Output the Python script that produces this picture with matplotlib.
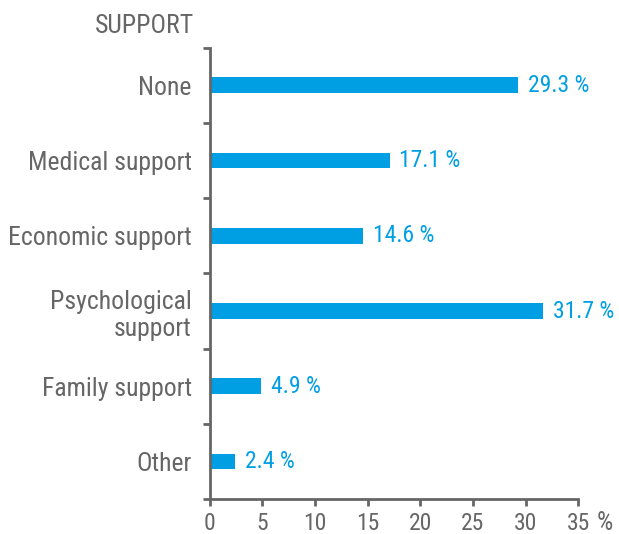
import matplotlib
matplotlib.use("Agg")
import matplotlib.pyplot as plt
from matplotlib.ticker import FixedLocator

# Support categories and share of respondents (%)
categories = ["None", "Medical support", "Economic support",
              "Psychological\nsupport", "Family support", "Other"]
values = [29.3, 17.1, 14.6, 31.7, 4.9, 2.4]
xticks = [0, 5, 10, 15, 20, 25, 30, 35]

plt.rcParams["font.family"] = ["Roboto Condensed", "DejaVu Sans"]

grey = "#666666"
blue = "#009FE3"
fs = 17       # values and x ticks
fs_cat = 18.5  # category labels and header

fig = plt.figure(figsize=(6.19, 5.34), dpi=100)
ax = fig.add_axes([0.339, 0.0655, 0.595, 0.845])

n = len(categories)
ypos = list(range(n - 1, -1, -1))
ax.barh(ypos, values, height=0.21, color=blue)

for y, v in zip(ypos, values):
    ax.text(v + 0.9, y, f"{v} %", va="center", ha="left", color=blue, fontsize=fs)

ax.set_xlim(0, 35)
ax.set_ylim(-0.5, n - 0.5)
ax.set_xticks(xticks)
ax.set_xticklabels([str(t) for t in xticks])
ax.set_yticks(ypos)
ax.set_yticklabels(categories, fontsize=fs_cat, color=grey, linespacing=1.2)
ax.yaxis.set_minor_locator(FixedLocator([i - 0.5 for i in range(n + 1)]))

ax.tick_params(axis="y", which="major", length=0, pad=13)
ax.tick_params(axis="y", which="minor", length=5, width=2, color=grey, direction="out")
ax.tick_params(axis="x", length=5, width=2, color=grey, labelsize=fs,
               labelcolor=grey, pad=4)

for side in ("top", "right"):
    ax.spines[side].set_visible(False)
for side in ("left", "bottom"):
    ax.spines[side].set_color(grey)
    ax.spines[side].set_linewidth(2)

fig.text(0.313, 0.952, "SUPPORT", ha="right", va="center", color=grey, fontsize=fs_cat)
ax.annotate("%", xy=(1.0, 0), xycoords="axes fraction", xytext=(13, -17.5),
            textcoords="offset points", ha="left", va="center",
            color=grey, fontsize=fs_cat)

fig.savefig("out.png", dpi=100)
